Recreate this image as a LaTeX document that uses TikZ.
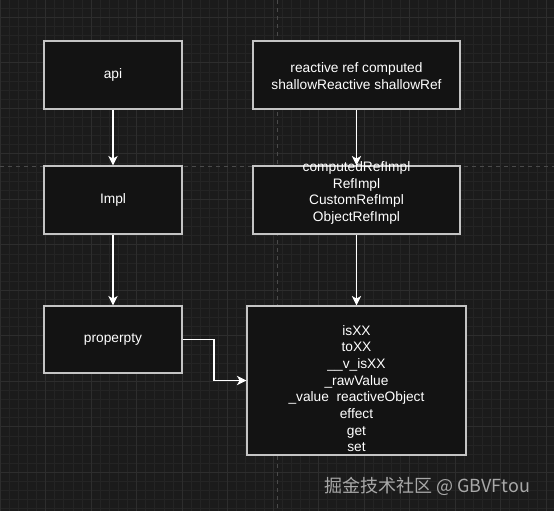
\documentclass[tikz,border=0pt]{standalone}
\usepackage{fontspec}
\setmainfont{Liberation Sans}
\newfontfamily\cjk{Noto Sans CJK SC}
\usetikzlibrary{arrows.meta}
\definecolor{bgc}{HTML}{1B1B1B}
\definecolor{minorc}{HTML}{242424}
\definecolor{majorc}{HTML}{2D2D2D}
\definecolor{dashc}{HTML}{4A4A4A}
\definecolor{boxfill}{HTML}{131313}
\definecolor{boxline}{HTML}{C4C4C4}
\definecolor{wmc}{HTML}{A8A8A8}
\tikzset{
  box/.style={draw=boxline, line width=1.1pt, fill=boxfill, inner sep=0pt},
  txt/.style={text=white, font=\fontsize{10.3}{12.5}\selectfont, align=center, inner sep=0pt},
  conn/.style={draw=white, line width=0.8pt, -{Stealth[length=7pt,width=7pt,inset=2pt]}},
}
\begin{document}
\begin{tikzpicture}[x=0.75pt,y=-0.75pt]
\fill[bgc] (0,0) rectangle (554,511);
\useasboundingbox (0,0) rectangle (554,511);
\foreach \i in {0,...,61} {
  \draw[minorc, line width=0.4pt] ({\i*9.1},0) -- ({\i*9.1},511);
}
\foreach \i in {0,...,57} {
  \draw[minorc, line width=0.4pt] (0,{\i*9.1-1}) -- (554,{\i*9.1-1});
}
\foreach \i in {0,...,12} {
  \draw[majorc, line width=0.6pt] ({\i*45.5},0) -- ({\i*45.5},511);
  \draw[majorc, line width=0.6pt] (0,{\i*45.5+17}) -- (554,{\i*45.5+17});
}
\draw[dashc, line width=0.5pt, dash pattern=on 3pt off 3pt] (0,166) -- (554,166);
\draw[dashc, line width=0.5pt, dash pattern=on 3pt off 3pt] (277.5,0) -- (277.5,511);

\node[box, minimum width=138*0.75pt, minimum height=68*0.75pt] (api) at (113,75) {};
\node[txt] (apit) at (113,75) {api};
\node[box, minimum width=207*0.75pt, minimum height=68*0.75pt] (react) at (356.5,75) {};
\node[txt] (reactt) at (356.5,76) {reactive ref computed\\shallowReactive shallowRef};
\node[box, minimum width=138*0.75pt, minimum height=68*0.75pt] (impl) at (113,200) {};
\node[txt] (implt) at (113,200) {Impl};
\node[box, minimum width=207*0.75pt, minimum height=68*0.75pt] (comp) at (356.5,200) {};
\node[box, minimum width=138*0.75pt, minimum height=67*0.75pt] (prop) at (113,339.5) {};
\node[txt] (propt) at (113,339.5) {properpty};
\node[box, minimum width=219*0.75pt, minimum height=149*0.75pt] (res) at (356.5,380.5) {};

\draw[conn] (api) -- (impl);
\draw[conn] (impl) -- (prop);
\draw[conn] (react) -- (comp);
\draw[conn] (comp) -- (res);
\coordinate (bend) at (214,339.5);
\draw[conn] (prop.east) -- (bend) |- (res.west);

\node[txt] (compt) at (356.5,193) {computedRefImpl\\RefImpl\\CustomRefImpl\\ObjectRefImpl};
\node[txt] (rest) at (356.5,388.5) {isXX\\toXX\\\_\_v\_isXX\\\_rawValue\\\_value\ \ reactiveObject\\effect\\get\\set};

\node[text=wmc, font=\cjk\fontsize{13.5}{15}\selectfont, anchor=west, inner sep=0pt] (wm) at (324,486) {掘金技术社区 @ GBVFtou};
\end{tikzpicture}
\end{document}
